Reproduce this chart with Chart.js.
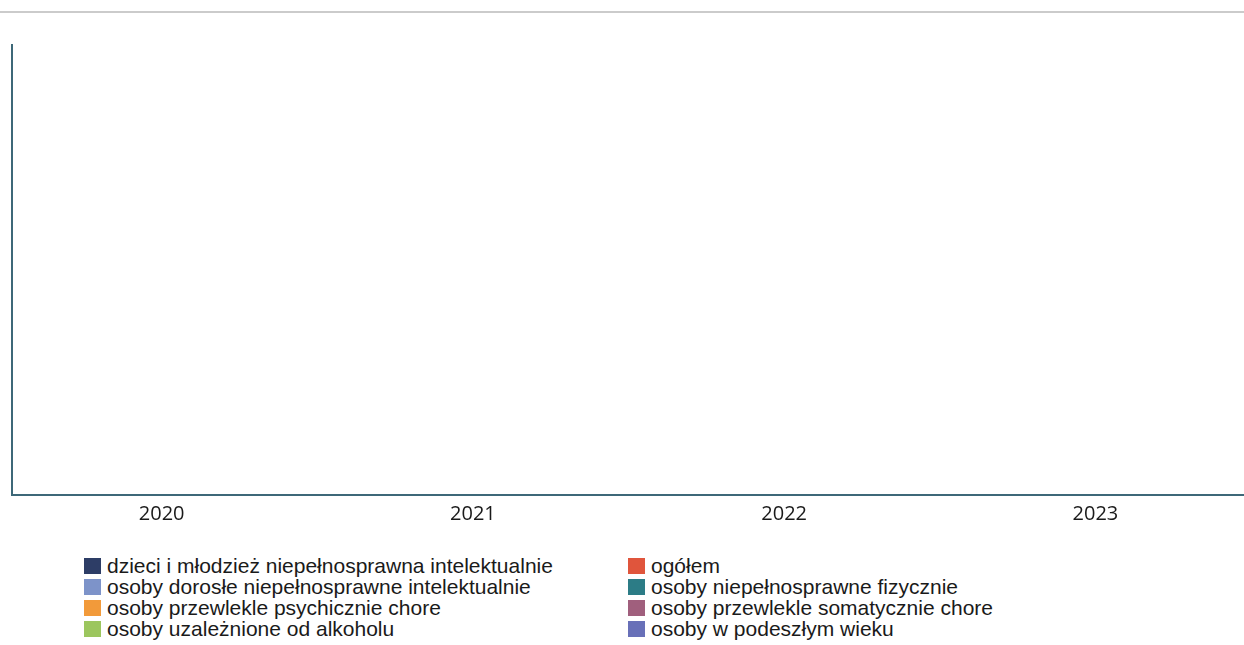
<!DOCTYPE html>
<html lang="pl">
<head>
<meta charset="utf-8">
<title>Wykres</title>
<script src="https://cdn.jsdelivr.net/npm/chart.js@4/dist/chart.umd.min.js"></script>
<style>
  html, body { margin: 0; padding: 0; background: #fff; overflow: hidden; }
  body { width: 1244px; height: 645px; position: relative; }
  #rule { position: absolute; left: 0; top: 11px; width: 1244px; height: 2px; background: #cbcbcb; }
  #wrap { position: absolute; left: 0; top: 0; width: 1257px; height: 547px; }
  #legend { position: absolute; top: 555px; left: 84px; width: 1100px; font-family: "Liberation Sans", Arial, sans-serif; font-size: 21px; color: #1a1a1a; }
  .col { position: absolute; top: 0; }
  .item { height: 21px; line-height: 21px; white-space: nowrap; display: flex; align-items: center; }
  .box { width: 17px; height: 16px; margin-right: 6px; display: inline-block; }
</style>
</head>
<body>
<div id="rule"></div>
<div id="wrap"><canvas id="chart"></canvas></div>
<div id="legend"></div>
<script>
// Categories (years)
const years = ['2020', '2021', '2022', '2023'];

// Series names and colours (no bars are visible in the picture)
const seriesNames = [
  'dzieci i młodzież niepełnosprawna intelektualnie',
  'osoby dorosłe niepełnosprawne intelektualnie',
  'osoby przewlekle psychicznie chore',
  'osoby uzależnione od alkoholu',
  'ogółem',
  'osoby niepełnosprawne fizycznie',
  'osoby przewlekle somatycznie chore',
  'osoby w podeszłym wieku'
];
const seriesColors = ['#2d3d66', '#7d93c9', '#f29a3a', '#9cc65e', '#e0553c', '#2c7c86', '#a05f7d', '#6870b8'];

// Series values - the reference shows an empty plot
const dzieci = [null, null, null, null];
const dorosle = [null, null, null, null];
const psychicznie = [null, null, null, null];
const alkohol = [null, null, null, null];
const ogolem = [null, null, null, null];
const fizycznie = [null, null, null, null];
const somatycznie = [null, null, null, null];
const wiek = [null, null, null, null];
const seriesValues = [dzieci, dorosle, psychicznie, alkohol, ogolem, fizycznie, somatycznie, wiek];

const axisColor = '#3d6878';

const ctx = document.getElementById('chart').getContext('2d');
const chart = new Chart(ctx, {
  type: 'bar',
  data: {
    labels: years,
    datasets: seriesNames.map((name, i) => ({
      label: name,
      data: seriesValues[i],
      backgroundColor: seriesColors[i]
    }))
  },
  options: {
    responsive: true,
    maintainAspectRatio: false,
    animation: false,
    layout: { padding: { left: 12, top: 45, right: 0, bottom: 14 } },
    plugins: {
      legend: { display: false },
      tooltip: { enabled: false }
    },
    scales: {
      x: {
        grid: { display: false, drawTicks: false },
        border: { color: axisColor, width: 2 },
        ticks: {
          color: '#1a1a1a',
          padding: 7,
          labelOffset: -6,
          font: { family: '"Open Sans", sans-serif', size: 20 }
        }
      },
      y: {
        min: 0,
        max: 100,
        grid: { display: false, drawTicks: false },
        border: { color: axisColor, width: 2 },
        ticks: { display: false }
      }
    }
  }
});

// Two-column legend below the chart
const legend = document.getElementById('legend');
const cols = [document.createElement('div'), document.createElement('div')];
cols[0].className = 'col';
cols[0].style.left = '0px';
cols[1].className = 'col';
cols[1].style.left = '544px';
seriesNames.forEach((name, i) => {
  const item = document.createElement('div');
  item.className = 'item';
  const box = document.createElement('span');
  box.className = 'box';
  box.style.background = seriesColors[i];
  item.appendChild(box);
  item.appendChild(document.createTextNode(name));
  cols[i < 4 ? 0 : 1].appendChild(item);
});
cols.forEach(c => legend.appendChild(c));
</script>
</body>
</html>
